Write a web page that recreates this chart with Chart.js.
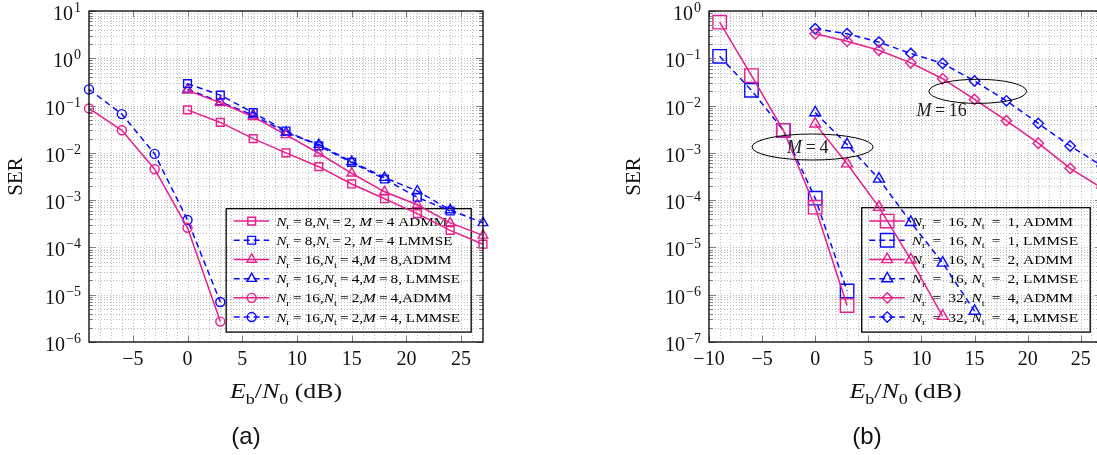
<!DOCTYPE html>
<html>
<head>
<meta charset="utf-8">
<script src="https://cdn.jsdelivr.net/npm/chart.js@4.4.1/dist/chart.umd.min.js"></script>
<style>
  body { margin: 0; width: 1097px; height: 455px; overflow: hidden; background: #fff; position: relative; }
  canvas { position: absolute; top: 0; }
  #chartA { left: 0; }
  #chartB { left: 618px; }
  .cap { position: absolute; top: 422px; font-family: "Liberation Sans", Arial, sans-serif; font-size: 24px; line-height: 28px; color: #111; transform: translateX(-50%); }
</style>
</head>
<body>
<canvas id="chartA" width="500" height="455"></canvas>
<canvas id="chartB" width="500" height="455"></canvas>
<div class="cap" style="left:246px">(a)</div>
<div class="cap" style="left:867px">(b)</div>
<script>
const pink = "#e81e8c";
const blue = "#0a0aff";
const serif = "'Liberation Serif', 'Times New Roman', serif";

// ---- (a) ----
const snrA = [0, 3, 6, 9, 12, 15, 18, 21, 24, 27];
const snrLowA = [-9, -6, -3, 0, 3];
const serAdmm8x2 = [0.081, 0.044, 0.020, 0.010, 0.0051, 0.0022, 0.00107, 0.00052, 0.00023, 0.000117];
const serLmmse8x2 = [0.29, 0.166, 0.071, 0.029, 0.014, 0.0063, 0.0028, 0.00115, 0.00059];
const serAdmm16x4 = [0.21, 0.115, 0.058, 0.024, 0.0098, 0.0037, 0.0015, 0.0008, 0.00033, 0.00018];
const serLmmse16x4 = [0.22, 0.12, 0.063, 0.027, 0.015, 0.0065, 0.003, 0.00156, 0.00062, 0.00033];
const serAdmm16x2 = [0.087, 0.030, 0.0045, 0.00026, 2.7e-6];
const serLmmse16x2 = [0.22, 0.066, 0.0095, 0.00038, 7e-6];
const labelsA = [
  "*N*_r=8,*N*_t=2, *M*=4 ADMM",
  "*N*_r=8,*N*_t=2, *M*=4 LMMSE",
  "*N*_r=16,*N*_t=4,*M*=8,ADMM",
  "*N*_r=16,*N*_t=4,*M*=8, LMMSE",
  "*N*_r=16,*N*_t=2,*M*=4,ADMM",
  "*N*_r=16,*N*_t=2,*M*=4, LMMSE",
];
const xTicksA = [-5, 0, 5, 10, 15, 20, 25];
const yTicksA = [1e1, 1e0, 1e-1, 1e-2, 1e-3, 1e-4, 1e-5, 1e-6];

// ---- (b) ----
const snrLowB = [-9, -6, -3, 0, 3];
const snrMidB = [0, 3, 6, 9, 12];
const snrMidB2 = [0, 3, 6, 9, 12, 15];
const snrB = [0, 3, 6, 9, 12, 15, 18, 21, 24, 27];
const serAdmm16x1 = [0.58, 0.043, 0.003, 7.1e-5, 5.9e-7];
const serLmmse16x1 = [0.11, 0.021, 0.003, 1.1e-4, 1.2e-6];
const serAdmm16x2b = [0.0041, 5.9e-4, 7.1e-5, 5.5e-6, 3.5e-7];
const serLmmse16x2b = [0.0071, 0.0015, 2.8e-4, 3.4e-5, 4.7e-6, 4.5e-7];
const serAdmm32x4 = [0.33, 0.23, 0.148, 0.08, 0.037, 0.0135, 0.0048, 0.0016, 4.7e-4, 1.8e-4];
const serLmmse32x4 = [0.42, 0.33, 0.22, 0.126, 0.078, 0.033, 0.0126, 0.0042, 0.0014, 5.3e-4];
const labelsB = [
  "*N*_r = 16, *N*_t = 1, ADMM",
  "*N*_r = 16, *N*_t = 1, LMMSE",
  "*N*_r = 16, *N*_t = 2, ADMM",
  "*N*_r = 16, *N*_t = 2, LMMSE",
  "*N*_r = 32, *N*_t = 4, ADMM",
  "*N*_r = 32, *N*_t = 4, LMMSE",
];
const xTicksB = [-10, -5, 0, 5, 10, 15, 20, 25];
const yTicksB = [1e0, 1e-1, 1e-2, 1e-3, 1e-4, 1e-5, 1e-6, 1e-7];

// ellipses marking the M=16 and M=4 groups (centre in dB / SER, span in dB / decades)
const ovalX = [15.3, -0.25];
const ovalY = [0.02, 1.33e-3];
const ovalSpanX = [9.2, 11.4];
const ovalSpanY = [0.51, 0.55];
const ovalText = ["*M*=16", "*M*=4"];
const ovalTextX = [11.9, -0.7];
const ovalTextY = [0.0079, 1.33e-3];

const richParts = (text) => {
  const parts = [];
  let i = 0;
  while (i < text.length) {
    const c = text[i];
    if (c === "*") {
      const j = text.indexOf("*", i + 1);
      parts.push({ t: text.slice(i + 1, j), it: true });
      i = j + 1;
    } else if (c === "_") {
      parts.push({ t: text[i + 1], sub: true });
      i += 2;
    } else if (c === "=") {
      parts.push({ t: "=", eq: true });
      i++;
    } else {
      let j = i;
      while (j < text.length && !"*_=".includes(text[j])) j++;
      parts.push({ t: text.slice(i, j) });
      i = j;
    }
  }
  return parts;
};

// draws (or only measures) a label with italic letters and subscripts
const richText = (ctx, text, x, y, size, draw) => {
  let cx = x;
  for (const p of richParts(text)) {
    const fs = p.sub ? size * 0.7 : size;
    ctx.font = (p.it ? "italic " : "") + fs + "px " + serif;
    const pad = p.eq ? size * 0.2 : 0;
    cx += pad;
    if (draw) ctx.fillText(p.t, cx, p.sub ? y + size * 0.28 : y);
    cx += ctx.measureText(p.t).width + pad;
  }
  return cx - x;
};

const marker = (ctx, style, x, y, r) => {
  ctx.beginPath();
  if (style === "rect") {
    const s = r * Math.SQRT1_2;
    ctx.rect(x - s, y - s, 2 * s, 2 * s);
  } else if (style === "triangle") {
    for (let k = 0; k < 3; k++) {
      const t = (k * 2 * Math.PI) / 3;
      if (k === 0) ctx.moveTo(x + Math.sin(t) * r, y - Math.cos(t) * r);
      else ctx.lineTo(x + Math.sin(t) * r, y - Math.cos(t) * r);
    }
    ctx.closePath();
  } else if (style === "rectRot") {
    ctx.moveTo(x - r, y);
    ctx.lineTo(x, y - r);
    ctx.lineTo(x + r, y);
    ctx.lineTo(x, y + r);
    ctx.closePath();
  } else {
    ctx.arc(x, y, r, 0, 2 * Math.PI);
  }
  ctx.stroke();
};

const series = (label, xs, ys, color, style, radius, dashed) => ({
  label,
  data: ys.map((y, i) => ({ x: xs[i], y })),
  borderColor: color,
  backgroundColor: "rgba(0,0,0,0)",
  borderWidth: 1.5,
  borderDash: dashed ? [6, 4] : [],
  pointStyle: style,
  pointRadius: radius,
  pointHoverRadius: radius,
  pointBorderWidth: 1.4,
  pointBorderColor: color,
  pointBackgroundColor: "rgba(0,0,0,0)",
  fill: false,
  tension: 0,
  clip: false,
});

const gridPlugin = {
  id: "dotgrid",
  beforeDatasetsDraw(chart) {
    const { ctx, chartArea: a, scales: { x, y } } = chart;
    ctx.save();
    ctx.strokeStyle = "#bcbcbc";
    ctx.lineWidth = 1;
    ctx.setLineDash([1, 2]);
    ctx.beginPath();
    for (let v = Math.ceil(x.min) + 1; v < x.max; v++) {
      const px = Math.round(x.getPixelForValue(v)) + 0.5;
      ctx.moveTo(px, a.top);
      ctx.lineTo(px, a.bottom);
    }
    const e0 = Math.floor(Math.log10(y.min));
    const e1 = Math.ceil(Math.log10(y.max));
    for (let e = e0; e <= e1; e++) {
      for (let m = 1; m < 10; m++) {
        const v = m * Math.pow(10, e);
        if (v <= y.min * 1.001 || v >= y.max * 0.999) continue;
        const py = Math.round(y.getPixelForValue(v)) + 0.5;
        ctx.moveTo(a.left, py);
        ctx.lineTo(a.right, py);
      }
    }
    ctx.stroke();
    ctx.restore();
  },
};

const legendPlugin = {
  id: "texLegend",
  beforeDatasetsDraw(chart, args, opts) {
    const { ctx, chartArea: a } = chart;
    const sets = chart.data.datasets;
    const bx1 = a.right - 0.03 * a.width;
    const by1 = a.bottom - 0.03 * a.height;
    const bx0 = bx1 - opts.width;
    const by0 = by1 - opts.height;
    ctx.save();
    ctx.strokeStyle = "#000";
    ctx.lineWidth = 1.3;
    ctx.setLineDash([]);
    ctx.strokeRect(bx0, by0, opts.width, opts.height);
    const natural = Math.max(...sets.map((d) => richText(ctx, d.label, 0, 0, opts.font, false)));
    const sx = opts.textWidth / natural;
    sets.forEach((d, i) => {
      const ry = by0 + opts.firstRow + i * opts.rowStep;
      ctx.strokeStyle = d.borderColor;
      ctx.lineWidth = d.borderWidth;
      ctx.setLineDash(d.borderDash);
      ctx.beginPath();
      ctx.moveTo(bx0 + 7.5, ry);
      ctx.lineTo(bx0 + 43, ry);
      ctx.stroke();
      ctx.setLineDash([]);
      ctx.lineWidth = d.pointBorderWidth;
      marker(ctx, d.pointStyle, bx0 + 25.5, ry, d.pointRadius);
      ctx.save();
      ctx.translate(bx0 + 50, ry + 4.5);
      ctx.scale(sx, 1);
      ctx.fillStyle = "#000";
      richText(ctx, d.label, 0, 0, opts.font, true);
      ctx.restore();
    });
    ctx.restore();
  },
};

const ovalPlugin = {
  id: "ovals",
  afterDatasetsDraw(chart, args, opts) {
    if (!opts.show) return;
    const { ctx, scales: { x, y } } = chart;
    ctx.save();
    ctx.strokeStyle = "#000";
    ctx.lineWidth = 1;
    ctx.setLineDash([]);
    ovalX.forEach((cx, i) => {
      const px = x.getPixelForValue(cx);
      const py = y.getPixelForValue(ovalY[i]);
      const rx = Math.abs(x.getPixelForValue(cx + ovalSpanX[i] / 2) - px);
      const ry = Math.abs(y.getPixelForValue(ovalY[i] * Math.pow(10, ovalSpanY[i] / 2)) - py);
      ctx.beginPath();
      ctx.ellipse(px, py, rx, ry, 0, 0, 2 * Math.PI);
      ctx.stroke();
      const tx = x.getPixelForValue(ovalTextX[i]);
      const ty = y.getPixelForValue(ovalTextY[i]);
      const w = richText(ctx, ovalText[i], 0, 0, 18, false);
      ctx.fillStyle = "#222";
      richText(ctx, ovalText[i], tx - w / 2, ty + 6, 18, true);
    });
    ctx.restore();
  },
};

const framePlugin = {
  id: "frame",
  afterDraw(chart, args, opts) {
    const { ctx, chartArea: a, scales: { x, y } } = chart;
    ctx.save();
    ctx.setLineDash([]);
    ctx.strokeStyle = "#808080";
    ctx.lineWidth = 1;
    ctx.beginPath();
    opts.xTicks.forEach((v) => {
      const px = Math.round(x.getPixelForValue(v)) + 0.5;
      ctx.moveTo(px, a.bottom);
      ctx.lineTo(px, a.bottom - 6);
      ctx.moveTo(px, a.top);
      ctx.lineTo(px, a.top + 6);
    });
    const e0 = Math.floor(Math.log10(y.min));
    const e1 = Math.ceil(Math.log10(y.max));
    for (let e = e0; e <= e1; e++) {
      for (let m = 1; m < 10; m++) {
        const v = m * Math.pow(10, e);
        if (v < y.min * 0.999 || v > y.max * 1.001) continue;
        const py = Math.round(y.getPixelForValue(v)) + 0.5;
        const len = m === 1 ? 7 : 4;
        ctx.moveTo(a.left, py);
        ctx.lineTo(a.left + len, py);
        ctx.moveTo(a.right, py);
        ctx.lineTo(a.right - len, py);
      }
    }
    ctx.stroke();

    ctx.strokeStyle = "#000";
    ctx.lineWidth = 1.3;
    ctx.strokeRect(a.left, a.top, a.width, a.height);

    ctx.fillStyle = "#111";
    ctx.textAlign = "center";
    ctx.textBaseline = "alphabetic";
    ctx.font = "20px " + serif;
    opts.xTicks.forEach((v) => {
      const txt = v < 0 ? "\u2212" + -v : String(v);
      ctx.fillText(txt, x.getPixelForValue(v), a.bottom + 23);
    });

    ctx.textAlign = "left";
    opts.yTicks.forEach((v) => {
      const e = Math.round(Math.log10(v));
      const ex = e < 0 ? "\u2212" + -e : String(e);
      const py = y.getPixelForValue(v);
      ctx.font = "14px " + serif;
      const ew = ctx.measureText(ex).width;
      ctx.font = "20px " + serif;
      const bw = ctx.measureText("10").width;
      const xr = a.left - 8;
      ctx.fillText("10", xr - ew - bw - 1, py + 9);
      ctx.font = "14px " + serif;
      ctx.fillText(ex, xr - ew, py + 1);
    });

    // x axis title
    const tw = richText(ctx, opts.xTitle, 0, 0, 22, false);
    const sx = opts.xTitleWidth / tw;
    ctx.save();
    ctx.translate((a.left + a.right) / 2 - opts.xTitleWidth / 2, a.bottom + 56);
    ctx.scale(sx, 1);
    richText(ctx, opts.xTitle, 0, 0, 22, true);
    ctx.restore();
    ctx.restore();
  },
};

const makeChart = (id, cfg) => {
  return new Chart(document.getElementById(id), {
    type: "line",
    data: { datasets: cfg.datasets },
    options: {
      responsive: false,
      animation: false,
      devicePixelRatio: 1,
      events: [],
      layout: { padding: { top: 11, right: cfg.padRight, left: 0, bottom: 0 } },
      plugins: {
        legend: { display: false },
        tooltip: { enabled: false },
        texLegend: cfg.legend,
        ovals: { show: cfg.ovals },
        frame: { xTicks: cfg.xTicks, yTicks: cfg.yTicks, xTitle: "*E*_b/*N*_0 (dB)", xTitleWidth: 112 },
      },
      scales: {
        x: {
          type: "linear",
          min: cfg.xRange[0],
          max: cfg.xRange[1],
          ticks: { display: false },
          grid: { display: false, drawTicks: false },
          border: { display: false },
          afterFit: (s) => { s.height = 113; },
        },
        y: {
          type: "logarithmic",
          min: cfg.yRange[0],
          max: cfg.yRange[1],
          ticks: { display: false },
          grid: { display: false, drawTicks: false },
          border: { display: false },
          title: {
            display: true,
            text: "SER",
            color: "#111",
            font: { family: serif, size: 21 },
            padding: { top: 4, bottom: 4 },
          },
          afterFit: (s) => { s.width = cfg.yWidth; },
        },
      },
    },
    plugins: [gridPlugin, legendPlugin, ovalPlugin, framePlugin],
  });
};

makeChart("chartA", {
  datasets: [
    series(labelsA[0], snrA, serAdmm8x2, pink, "rect", 5.5, false),
    series(labelsA[1], snrA, serLmmse8x2, blue, "rect", 5.5, true),
    series(labelsA[2], snrA, serAdmm16x4, pink, "triangle", 5.5, false),
    series(labelsA[3], snrA, serLmmse16x4, blue, "triangle", 5.5, true),
    series(labelsA[4], snrLowA, serAdmm16x2, pink, "circle", 4.5, false),
    series(labelsA[5], snrLowA, serLmmse16x2, blue, "circle", 4.5, true),
  ],
  xRange: [-9, 27],
  yRange: [1e-6, 1e1],
  xTicks: xTicksA,
  yTicks: yTicksA,
  yWidth: 89,
  padRight: 17,
  ovals: false,
  legend: { width: 245, height: 123.4, firstRow: 12.4, rowStep: 19.2, font: 13, textWidth: 184 },
});

makeChart("chartB", {
  datasets: [
    series(labelsB[0], snrLowB, serAdmm16x1, pink, "rect", 9.5, false),
    series(labelsB[1], snrLowB, serLmmse16x1, blue, "rect", 9.5, true),
    series(labelsB[2], snrMidB, serAdmm16x2b, pink, "triangle", 6.3, false),
    series(labelsB[3], snrMidB2, serLmmse16x2b, blue, "triangle", 6.3, true),
    series(labelsB[4], snrB, serAdmm32x4, pink, "rectRot", 5.2, false),
    series(labelsB[5], snrB, serLmmse32x4, blue, "rectRot", 5.2, true),
  ],
  xRange: [-10, 27],
  yRange: [1e-7, 1e0],
  xTicks: xTicksB,
  yTicks: yTicksB,
  yWidth: 91,
  padRight: 16,
  ovals: true,
  legend: { width: 228.5, height: 124.4, firstRow: 13.4, rowStep: 19.2, font: 13, textWidth: 166.4 },
});
</script>
</body>
</html>
